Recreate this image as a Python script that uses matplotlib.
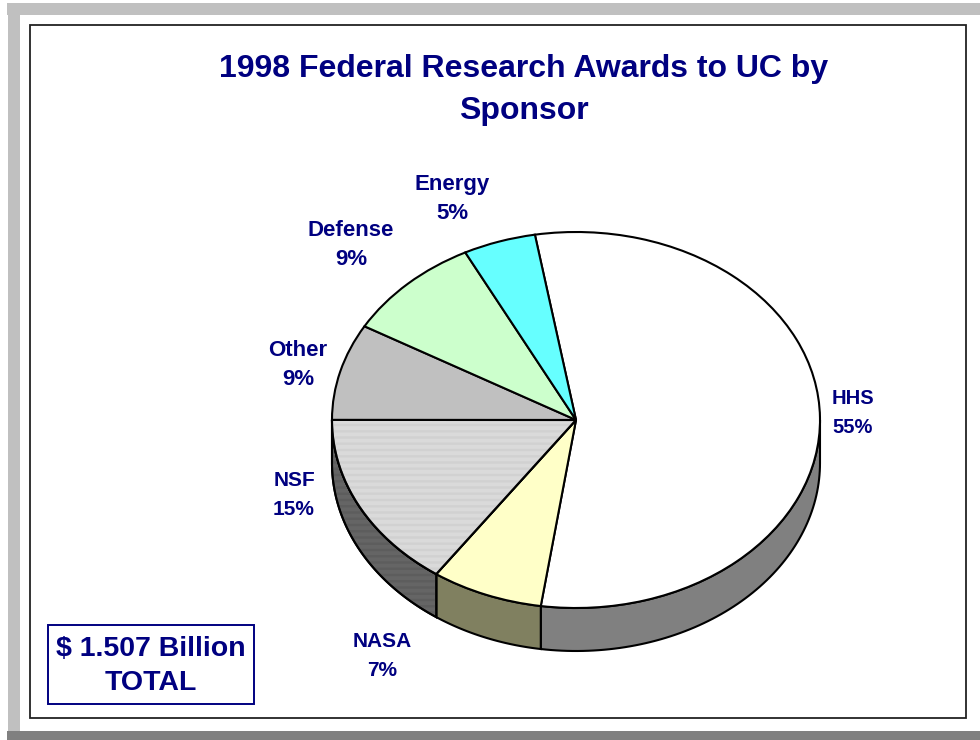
import numpy as np
import matplotlib
matplotlib.use('Agg')
import matplotlib.pyplot as plt
from matplotlib.patches import Rectangle

plt.rcParams['font.family'] = ['Liberation Sans', 'DejaVu Sans']
plt.rcParams['hatch.linewidth'] = 0.5

sponsors = ['HHS', 'NASA', 'NSF', 'Other', 'Defense', 'Energy']
shares = [55.0, 7.4, 15.3, 8.3, 9.2, 4.8]
share_labels = ['55%', '7%', '15%', '9%', '9%', '5%']
top_colors = ['#FFFFFF', '#FFFFC8', '#F2F2F2', '#C0C0C0', '#CCFFCC', '#66FFFF']
side_colors = ['#808080', '#808060', '#7C7C7C', '#606060', '#668066', '#338080']
title_text = '1998 Federal Research Awards to UC by\nSponsor'
total_text = '$ 1.507 Billion\nTOTAL'

NAVY = '#000080'
W, H = 980, 740
START = 99.7
DEPTH = 43 / 188.0
CX, CY, RX, RY = 576, 420, 244, 188

fig = plt.figure(figsize=(W / 100, H / 100), dpi=100, facecolor='white')

# page furniture, in pixel coords
bg = fig.add_axes([0, 0, 1, 1])
bg.set_xlim(0, W)
bg.set_ylim(H, 0)
bg.axis('off')
bg.add_patch(Rectangle((7, 3), W - 7, 12, fc='#C0C0C0', ec='none'))
bg.add_patch(Rectangle((8, 3), 12, 728, fc='#C0C0C0', ec='none'))
bg.add_patch(Rectangle((7, 731), W - 7, 9, fc='#808080', ec='none'))
bg.add_patch(Rectangle((30, 25), 936, 693, fc='white', ec='#222222', lw=1.3))
bg.text(524, 90, title_text, ha='center', va='center', color=NAVY, fontsize=23,
        fontweight='bold', linespacing=1.5)

label_pos = [(853, 413), (382, 656), (294, 495), (298, 365), (351, 245), (452, 199)]
label_size = [14.5, 15, 15, 16, 16, 16]
for name, pct, (x, y), size in zip(sponsors, share_labels, label_pos, label_size):
    bg.text(x, y, name + '\n' + pct, ha='center', va='center', color=NAVY, fontsize=size,
            fontweight='bold', linespacing=14.5 * 1.68 / size)

bg.add_patch(Rectangle((47.5, 624.5), 206, 79, fc='white', ec=NAVY, lw=1.4))
bg.text(151, 666, total_text, ha='center', va='center', color=NAVY, fontsize=20.5,
        fontweight='bold', linespacing=1.4)

# the pie itself, squashed by the axes box
ax = fig.add_axes([(CX - RX) / W, (H - CY - RY) / H, 2 * RX / W, 2 * RY / H])
wedges, _ = ax.pie(shares, colors=top_colors, startangle=START, counterclock=False,
                   radius=1, wedgeprops={'edgecolor': 'black', 'linewidth': 1.5})
ax.set_aspect('auto')
ax.set_xlim(-1, 1)
ax.set_ylim(-1, 1)

# side wall, only the part facing the viewer
ends = START - np.cumsum(shares) * 3.6
begins = np.r_[START, ends[:-1]]
for b, e, col, name in zip(begins, ends, side_colors, sponsors):
    lo = max(e, -180)
    hi = min(b, 0)
    if hi <= lo:
        continue
    t = np.radians(np.linspace(hi, lo, 80))
    xs = np.r_[np.cos(t), np.cos(t)[::-1]]
    ys = np.r_[np.sin(t), np.sin(t)[::-1] - DEPTH]
    ax.fill(xs, ys, fc=col, ec='black', lw=1.5, zorder=0.5, clip_on=False)
    if name == 'NSF':
        ax.fill(xs, ys, fc='none', ec='#505050', lw=0, hatch='-' * 14, zorder=0.6, clip_on=False)
        ax.fill(xs, ys, fc='none', ec='black', lw=1.5, zorder=0.7, clip_on=False)

# NSF top has the fine line pattern
i = sponsors.index('NSF')
t = np.radians(np.linspace(begins[i], ends[i], 80))
nsf_x = np.r_[0, np.cos(t)]
nsf_y = np.r_[0, np.sin(t)]
ax.fill(nsf_x, nsf_y, fc='none', ec='#C4C4C4', lw=0, hatch='-' * 14, zorder=wedges[i].get_zorder() + 0.1)
ax.fill(nsf_x, nsf_y, fc='none', ec='black', lw=1.5, zorder=wedges[i].get_zorder() + 0.2)

fig.savefig('out.png', dpi=100)
